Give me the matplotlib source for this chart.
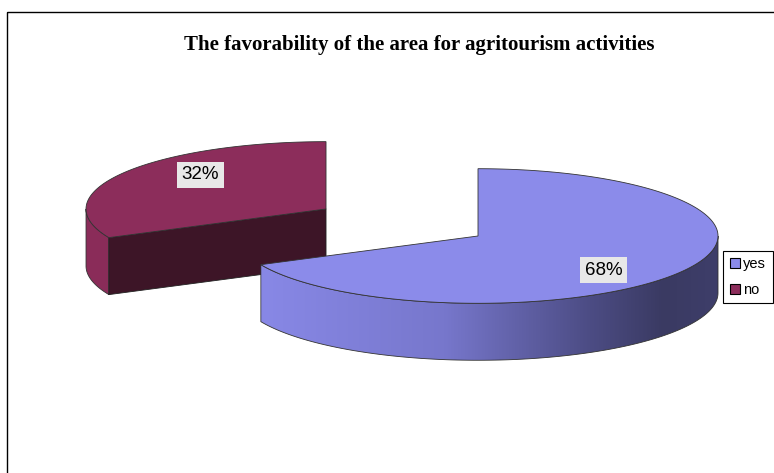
import numpy as np
import matplotlib
matplotlib.use("Agg")
import matplotlib.pyplot as plt
from matplotlib.patches import Polygon, Rectangle, Patch
from matplotlib.colors import LinearSegmentedColormap

# data
labels = ["yes", "no"]
values = [68, 32]
explode = [0.0, 0.75]
top_colors = ["#8B8BEA", "#8C2D5B"]
face_colors = ["#3C3C66", "#3D1527"]
wall_colors = [None, "#8A2C59"]  # None -> gradient
title = "The favorability of the area for agritourism activities"

# layout of the 3D pie (pixel-like units, y pointing down)
cx, cy = 478, 236
rx, ry = 240, 67.3
depth = 57
start_angle = 90

fig = plt.figure(figsize=(7.74, 4.73), dpi=100)
ax = fig.add_axes([0, 0, 1, 1])
ax.set_xlim(0, 774)
ax.set_ylim(473, 0)
ax.axis("off")

# chart frame
ax.add_patch(Rectangle((7, 12), 800, 500, fill=False, ec="black", lw=1))

grad_cmap = LinearSegmentedColormap.from_list(
    "wall", [(0, "#8888E6"), (0.4, "#7777CC"), (0.72, "#4C4C84"),
             (0.88, "#3A3A62"), (1, "#3E3E6A")])


def rim(t, ox, oy, dz=0.0):
    t = np.radians(t)
    return np.column_stack([ox + rx * np.cos(t), oy - ry * np.sin(t) + dz])


total = float(sum(values))
t2 = start_angle
slices = []
for i, v in enumerate(values):
    t1 = t2 - 360 * v / total
    mid = (t1 + t2) / 2
    ox = cx + explode[i] * rx * np.cos(np.radians(mid))
    oy = cy - explode[i] * ry * np.sin(np.radians(mid))
    slices.append((i, t1, t2, mid, ox, oy))
    t2 = t1

# draw back (exploded) slices first
for i, t1, t2, mid, ox, oy in sorted(slices, key=lambda s: -explode[s[0]]):
    z = 4 if explode[i] == 0 else 1
    # curved outer wall (front half only)
    for k in range(-2, 2):
        lo, hi = max(t1, 180 + 360 * k), min(t2, 360 + 360 * k)
        if hi <= lo:
            continue
        ts = np.linspace(lo, hi, 120)
        pts = np.vstack([rim(ts, ox, oy), rim(ts[::-1], ox, oy, depth)])
        if wall_colors[i] is None:
            poly = Polygon(pts, closed=True, fc="none", ec="#333333", lw=0.6, zorder=z + 0.2)
            ax.add_patch(poly)
            x0, x1 = pts[:, 0].min(), pts[:, 0].max()
            y0, y1 = pts[:, 1].min(), pts[:, 1].max()
            im = ax.imshow(np.linspace(0, 1, 256)[None, :], cmap=grad_cmap,
                           extent=(x0, x1, y1, y0), aspect="auto", zorder=z + 0.1)
            im.set_clip_path(poly)
        else:
            ax.add_patch(Polygon(pts, closed=True, fc=wall_colors[i],
                                 ec="#333333", lw=0.6, zorder=z + 0.1))
    # radial cut faces facing the viewer
    for t, n in [(t1, t1 - 90), (t2, t2 + 90)]:
        if np.sin(np.radians(n)) < -1e-6:
            p = rim(np.array([t]), ox, oy)[0]
            pts = [(ox, oy), p, (p[0], p[1] + depth), (ox, oy + depth)]
            ax.add_patch(Polygon(pts, closed=True, fc=face_colors[i],
                                 ec="#222222", lw=0.6, zorder=z + 0.1))
    # top face
    ts = np.linspace(t1, t2, 200)
    pts = np.vstack([[ox, oy], rim(ts, ox, oy)])
    ax.add_patch(Polygon(pts, closed=True, fc=top_colors[i],
                         ec="#333333", lw=0.6, zorder=z + 0.3))
    # label
    lx = ox + 0.62 * rx * np.cos(np.radians(mid))
    ly = oy - 0.95 * ry * np.sin(np.radians(mid))
    ax.text(lx, ly, f"{values[i] / total:.0%}", ha="center", va="center",
            fontsize=13.5, family="Liberation Sans", zorder=6,
            bbox=dict(boxstyle="square,pad=0.25", fc="#E8E8E8", ec="none"))

fig.text(419 / 774, 1 - 45 / 473, title, ha="center", va="center",
         family="Liberation Serif", weight="bold", fontsize=15)

handles = [Patch(fc=c, ec="black", lw=0.8) for c in top_colors]
leg = ax.legend(handles, labels, loc="center left",
                bbox_to_anchor=(723 / 774, 1 - 277 / 473),
                prop=dict(family="Liberation Sans", size=10.5),
                fancybox=False, edgecolor="black", framealpha=1,
                handlelength=0.7, handleheight=0.7, handletextpad=0.25,
                labelspacing=0.8, borderpad=0.45, borderaxespad=0)
leg.get_frame().set_linewidth(0.8)

fig.savefig("out.png", dpi=100)
